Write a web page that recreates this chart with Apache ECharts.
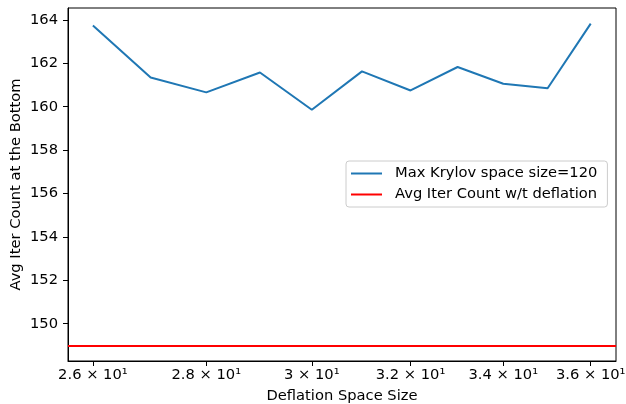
<!DOCTYPE html>
<html>
<head>
<meta charset="utf-8">
<script src="https://cdn.jsdelivr.net/npm/echarts@6/dist/echarts.min.js"></script>
<style>html,body{margin:0;padding:0;background:#fff}#c{width:626px;height:404px}</style>
</head>
<body>
<div id="c"></div>
<script>
const deflationSizes = [26, 27, 28, 29, 30, 31, 32, 33, 34, 35, 36];
const avgIterKrylov120 = [163.74, 161.35, 160.66, 161.58, 159.86, 161.63, 160.75, 161.83, 161.06, 160.85, 163.83];
const avgIterNoDeflation = 149.0;
const xTickValues = [26, 28, 30, 32, 34, 36];
const yTickValues = [150, 152, 154, 156, 158, 160, 162, 164];
const seriesNames = ['Max Krylov space size=120', 'Avg Iter Count w/t deflation'];

const font = 'DejaVu Sans';
const fs = 14.7;
const lineIcon = 'path://M0,0H31V2H0Z';
const chart = echarts.init(document.getElementById('c'), null, {renderer: 'canvas'});
chart.setOption({
  animation: false,
  backgroundColor: '#fff',
  grid: {left: 68, top: 8, right: 10, bottom: 43, outerBoundsMode: 'none', containLabel: false,
         show: true, borderColor: '#000', borderWidth: 1, backgroundColor: 'transparent'},
  legend: {
    orient: 'vertical', left: 346, top: 161,
    padding: [5, 10, 5, 5], itemGap: 6, itemWidth: 31, itemHeight: 14,
    borderColor: '#cccccc', borderWidth: 1, borderRadius: 3, backgroundColor: 'rgba(255,255,255,0.8)',
    textStyle: {fontFamily: font, fontSize: fs, color: '#000', padding: [0, 0, 0, 8]},
    data: seriesNames.map(n => ({name: n, icon: lineIcon}))
  },
  xAxis: {
    type: 'log', logBase: 10, min: 25.58, max: 36.6,
    name: 'Deflation Space Size', nameLocation: 'middle', nameGap: 28, nameMoveOverlap: false,
    nameTextStyle: {fontFamily: font, fontSize: fs, color: '#000'},
    axisLine: {show: true, lineStyle: {color: '#000', width: 1}},
    axisTick: {show: true, inside: false, length: 5, lineStyle: {color: '#000'}, customValues: xTickValues},
    minorTick: {show: false},
    splitLine: {show: false},
    axisLabel: {
      fontFamily: font, fontSize: fs, color: '#000', margin: 7,
      customValues: xTickValues,
      formatter: v => (+(v / 10).toFixed(1)) + ' × 10¹'
    }
  },
  yAxis: {
    type: 'value', min: 148.28, max: 164.55,
    name: 'Avg Iter Count at the Bottom', nameLocation: 'middle', nameGap: 44, nameMoveOverlap: false,
    nameTextStyle: {fontFamily: font, fontSize: fs, color: '#000'},
    axisLine: {show: true, lineStyle: {color: '#000', width: 1}},
    axisTick: {show: true, inside: false, length: 5, lineStyle: {color: '#000'}, customValues: yTickValues},
    splitLine: {show: false},
    axisLabel: {fontFamily: font, fontSize: fs, color: '#000', margin: 10, customValues: yTickValues}
  },
  series: [
    {
      name: seriesNames[0], type: 'line', symbol: 'none',
      color: '#1f77b4', lineStyle: {color: '#1f77b4', width: 2},
      data: deflationSizes.map((x, i) => [x, avgIterKrylov120[i]])
    },
    {
      name: seriesNames[1], type: 'line', symbol: 'none',
      color: '#ff0000', lineStyle: {color: '#ff0000', width: 2},
      data: [],
      markLine: {
        silent: true, symbol: 'none', label: {show: false},
        lineStyle: {color: '#ff0000', width: 2, type: 'solid'},
        data: [{yAxis: avgIterNoDeflation}]
      }
    }
  ]
});
</script>
</body>
</html>
